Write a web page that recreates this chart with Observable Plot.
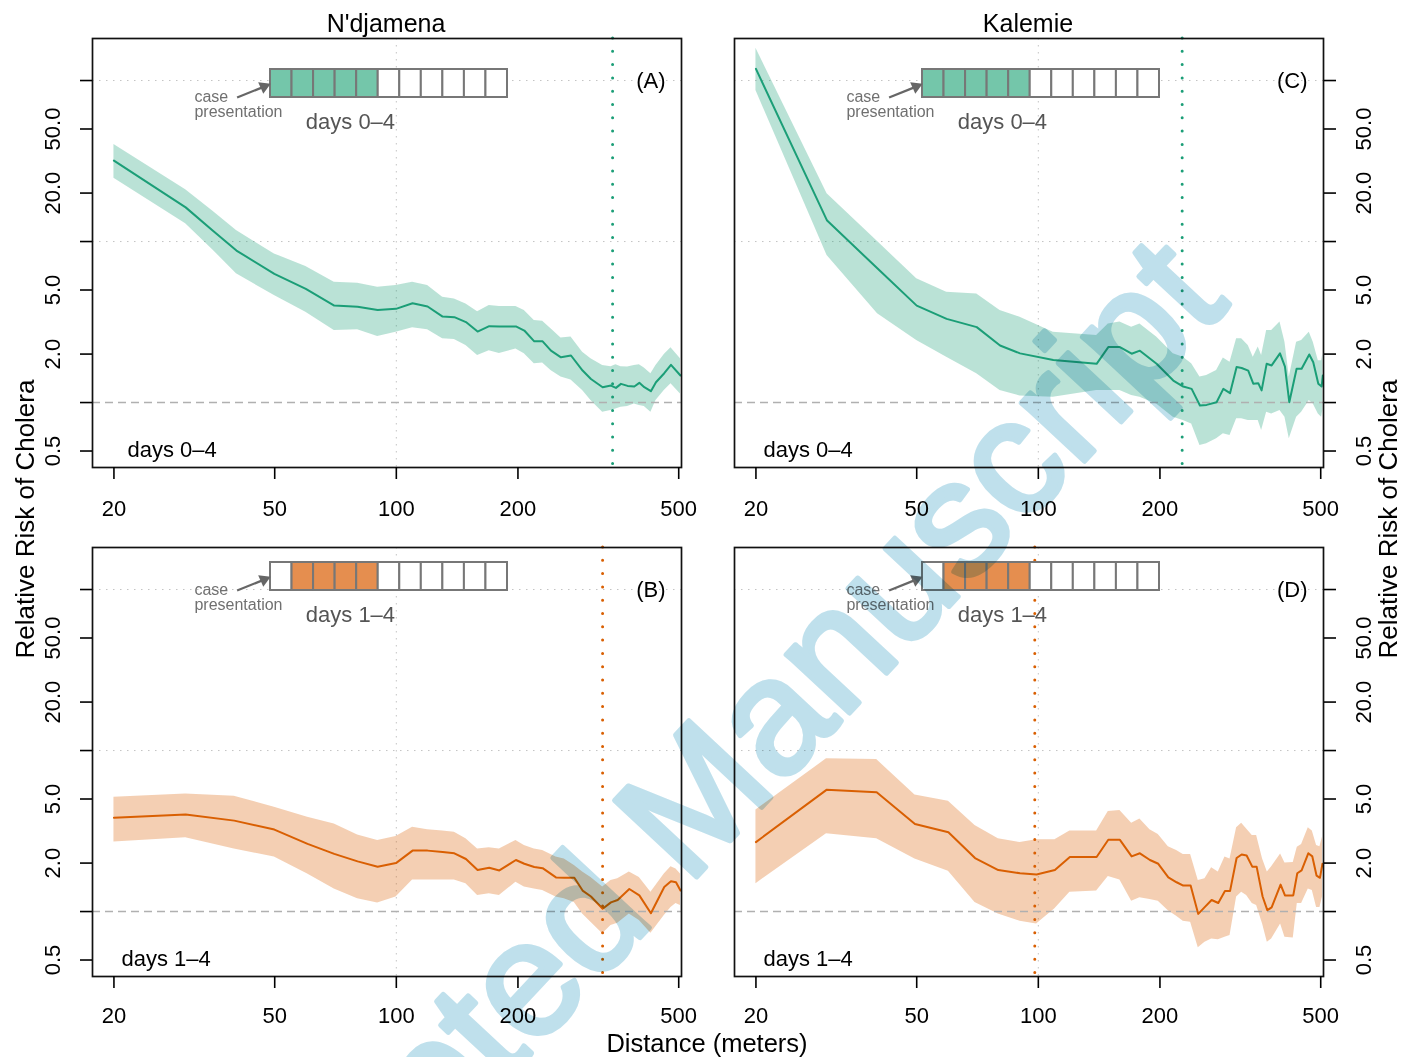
<!DOCTYPE html>
<html>
<head>
<meta charset="utf-8">
<script src="https://cdn.jsdelivr.net/npm/d3@7"></script>
<script src="https://cdn.jsdelivr.net/npm/@observablehq/plot@0.6"></script>
<style>
  html, body { margin: 0; padding: 0; background: white; }
  #wrap { position: relative; width: 1413px; height: 1057px; overflow: hidden; background: white;
          font-family: "Liberation Sans", Arial, Helvetica, sans-serif; isolation: isolate; }
  .lbl { position: absolute; white-space: nowrap; line-height: 1; color: #000; }
</style>
</head>
<body>
<div id="wrap"></div>
<script>
// ---------- data ----------
const xTicks = [20, 50, 100, 200, 500];
const yTicks = [0.5, 1, 2, 5, 10, 20, 50, 100];
const yTickLabels = ["0.5", "", "2.0", "5.0", "", "20.0", "50.0", ""];
const gridX = [100];
const gridY = [10, 100];
const refLine = [1];
const boxDays = [0, 1, 2, 3, 4, 5, 6, 7, 8, 9, 10];
const filled04 = [0, 1, 2, 3, 4];
const filled14 = [1, 2, 3, 4];
const titles = ["N'djamena", "Kalemie"];
const panelTags = ["(A)", "(B)", "(C)", "(D)"];

// N'djamena, days 0-4 (A)
const xA = [20, 30.1, 35.1, 40.2, 49.9, 59.7, 70.2, 80.2, 89.9, 99.8, 109.7, 119.5, 130.2, 139.2, 148.7, 158.9, 169.8, 179.9, 197.7, 207.4, 219.5, 230.2, 241.4, 255.6, 270.6, 289.1, 303.2, 324.1, 339.8, 349.6, 359.8, 373.6, 388.2, 399.5, 410.9, 426.7, 439.2, 460.5, 478.4, 505];
const rrA = [31.8, 16.3, 11.7, 8.79, 6.30, 5.08, 4.0, 3.94, 3.76, 3.82, 4.14, 3.95, 3.42, 3.39, 3.16, 2.76, 2.98, 2.97, 2.97, 2.80, 2.40, 2.40, 2.10, 1.91, 1.96, 1.58, 1.40, 1.245, 1.275, 1.233, 1.306, 1.269, 1.257, 1.325, 1.245, 1.176, 1.337, 1.521, 1.714, 1.472];
const hiA = [40, 21, 15.5, 11.7, 8.38, 7.0, 5.59, 5.51, 5.20, 5.33, 5.59, 5.33, 4.51, 4.40, 4.10, 3.67, 4.00, 3.95, 3.95, 3.73, 3.23, 3.20, 2.87, 2.52, 2.55, 2.05, 1.87, 1.70, 1.67, 1.72, 1.67, 1.66, 1.70, 1.72, 1.64, 1.51, 1.70, 1.99, 2.19, 1.87];
const loA = [24.7, 12.9, 8.9, 6.30, 4.62, 3.64, 2.80, 2.83, 2.57, 2.73, 2.91, 2.83, 2.49, 2.46, 2.26, 1.96, 2.10, 2.02, 2.15, 2.01, 1.74, 1.76, 1.58, 1.44, 1.38, 1.19, 1.03, 0.871, 0.892, 0.913, 0.936, 0.944, 0.981, 0.958, 0.944, 0.871, 1.03, 1.19, 1.31, 1.13];
const cutA = 343;

// N'djamena, days 1-4 (B)
const xB = [20, 30.1, 39.7, 49.9, 60.3, 70.2, 80.2, 89.9, 99.8, 109.7, 119.5, 130.2, 139.2, 148.7, 158.9, 169.8, 179.9, 197.7, 207.4, 219.5, 230.2, 248.4, 260.4, 275.8, 289.1, 303.2, 324.1, 339.8, 353.1, 377.3, 399.5, 426.7, 460.5, 478.4, 492.3, 505];
const rrB = [3.82, 4.00, 3.67, 3.23, 2.63, 2.28, 2.05, 1.90, 2.00, 2.39, 2.39, 2.34, 2.30, 2.12, 1.81, 1.87, 1.80, 2.09, 1.98, 1.89, 1.86, 1.63, 1.62, 1.62, 1.35, 1.24, 1.04, 1.14, 1.18, 1.38, 1.26, 0.976, 1.42, 1.54, 1.52, 1.35];
const hiB = [5.13, 5.38, 5.20, 4.45, 3.85, 3.50, 2.99, 2.76, 2.92, 3.34, 3.22, 3.16, 3.11, 2.83, 2.45, 2.49, 2.45, 2.76, 2.57, 2.45, 2.39, 2.18, 2.12, 1.93, 1.76, 1.63, 1.42, 1.56, 1.60, 1.76, 1.63, 1.32, 1.71, 1.90, 1.84, 1.71];
const loB = [2.70, 2.87, 2.45, 2.18, 1.71, 1.38, 1.20, 1.13, 1.23, 1.57, 1.57, 1.57, 1.57, 1.49, 1.26, 1.29, 1.26, 1.52, 1.42, 1.38, 1.35, 1.23, 1.20, 1.14, 0.967, 0.859, 0.727, 0.819, 0.846, 0.967, 0.879, 0.733, 0.944, 1.06, 1.12, 1.09];
const cutB = 324;

// Kalemie, days 0-4 (C)
const xC = [20, 30, 40, 50, 59.3, 70.4, 80.4, 90.1, 108.9, 139.4, 149.0, 159.2, 170.2, 178.4, 196.2, 215.8, 228.4, 239.6, 251.2, 261.0, 276.2, 287.0, 298.2, 309.6, 318.6, 330.8, 340.4, 350.2, 357.0, 367.4, 378.0, 396.4, 407.8, 418.0, 435.8, 448.4, 468.4, 479.2, 493.2, 502.6, 506];
const rrC = [118.2, 13.5, 6.8, 4.0, 3.31, 2.94, 2.26, 2.02, 1.84, 1.74, 2.21, 2.21, 2.01, 2.10, 1.74, 1.37, 1.257, 1.216, 0.958, 0.967, 1.005, 1.216, 1.143, 1.66, 1.64, 1.58, 1.31, 1.32, 1.19, 1.74, 1.70, 2.02, 1.67, 1.005, 1.62, 1.62, 1.99, 1.78, 1.31, 1.257, 1.47];
const hiC = [158.7, 19.8, 10.0, 5.87, 4.84, 4.73, 3.73, 3.39, 2.73, 2.61, 3.08, 3.16, 2.94, 3.08, 2.55, 2.01, 1.91, 1.74, 1.44, 1.47, 1.58, 1.89, 1.78, 2.49, 2.49, 2.26, 1.91, 2.21, 1.96, 2.80, 2.80, 3.16, 2.37, 1.44, 2.37, 2.43, 2.73, 2.37, 1.82, 1.82, 2.0];
const loC = [86.7, 8.18, 3.56, 2.43, 1.91, 1.51, 1.187, 1.10, 1.079, 1.187, 1.187, 1.187, 1.105, 1.079, 0.981, 0.811, 0.773, 0.737, 0.541, 0.554, 0.595, 0.639, 0.624, 0.792, 0.792, 0.773, 0.773, 0.773, 0.670, 0.871, 0.850, 0.892, 0.811, 0.595, 0.811, 0.871, 1.029, 0.981, 0.850, 0.811, 0.9];
const cutC = 227;

// Kalemie, days 1-4 (D)
const xD = [20, 29.9, 39.8, 49.5, 59.9, 69.7, 79.6, 90.1, 99.0, 109.9, 119.7, 139.4, 149.0, 159.2, 170.2, 178.4, 188.9, 198.1, 209.8, 219.9, 228.4, 238.2, 248.8, 258.5, 268.5, 278.9, 289.7, 298.2, 309.6, 318.6, 327.8, 338.5, 347.0, 359.0, 368.8, 378.0, 397.8, 407.8, 427.6, 437.5, 448.4, 465.8, 476.6, 488.4, 497.8, 505];
const rrD = [2.70, 5.70, 5.51, 3.50, 3.11, 2.15, 1.81, 1.73, 1.70, 1.81, 2.18, 2.18, 2.79, 2.79, 2.20, 2.30, 2.09, 1.98, 1.63, 1.52, 1.45, 1.45, 0.967, 1.07, 1.18, 1.13, 1.34, 1.34, 2.15, 2.26, 2.23, 1.90, 1.90, 1.24, 1.02, 1.06, 1.47, 1.26, 1.26, 1.73, 1.80, 2.30, 2.20, 1.67, 1.62, 1.98];
const hiD = [4.28, 8.88, 8.79, 5.30, 4.85, 3.42, 2.83, 2.68, 2.79, 2.79, 3.16, 3.16, 4.18, 4.24, 3.54, 3.76, 3.22, 3.01, 2.53, 2.39, 2.26, 2.26, 1.56, 1.60, 1.87, 1.76, 2.18, 2.12, 3.31, 3.54, 3.26, 2.97, 2.97, 2.12, 1.76, 1.90, 2.28, 2.00, 2.02, 2.51, 2.61, 3.31, 3.16, 2.57, 2.53, 2.90];
const loD = [1.49, 3.04, 2.83, 2.12, 1.78, 1.14, 0.967, 0.87, 0.838, 1.04, 1.32, 1.34, 1.65, 1.57, 1.16, 1.22, 1.19, 1.16, 1.01, 0.936, 0.871, 0.859, 0.595, 0.645, 0.676, 0.667, 0.693, 0.709, 1.23, 1.32, 1.26, 1.12, 1.09, 0.838, 0.645, 0.676, 0.838, 0.693, 0.686, 1.12, 1.12, 1.38, 1.35, 1.06, 1.06, 1.23];
const cutD = 98;

// ---------- styling ----------
const GREEN = "#1b9e77", ORANGE = "#d95f02";
const GREEN_BOX = "#74c6aa", ORANGE_BOX = "#e58e4f";
const FONT = "'Liberation Sans', Arial, Helvetica, sans-serif";
const wrap = document.getElementById("wrap");

function place(el, left, top) {
  el.style.position = "absolute";
  el.style.left = left + "px";
  el.style.top = top + "px";
  wrap.appendChild(el);
}

function panel(o) {
  const data = o.x.map((d, i) => ({x: d, rr: o.rr[i], lo: o.lo[i], hi: o.hi[i]}));
  const right = o.side === "right";
  const yLabels = yTicks.map((v, i) => ({v, t: yTickLabels[i]})).filter(d => d.t);
  const svg = Plot.plot({
    width: o.width, height: o.height,
    marginLeft: o.ml, marginRight: o.mr, marginTop: o.mt, marginBottom: o.mb,
    x: {type: "log", domain: [17.7, 508]},
    y: {type: "log", domain: [0.395, 182.4]},
    style: {fontFamily: FONT, fontSize: "22px", color: "black", background: "transparent", maxWidth: "none", overflow: "visible"},
    marks: [
      Plot.ruleY(gridY, {stroke: "#c4c4c4", strokeDasharray: "1.5,5.5"}),
      Plot.ruleX(gridX, {stroke: "#c4c4c4", strokeDasharray: "1.5,5.5"}),
      Plot.areaY(data, {x: "x", y1: "lo", y2: "hi", fill: o.color, fillOpacity: 0.3, curve: "linear"}),
      Plot.ruleY(refLine, {stroke: "#b0b0b0", strokeWidth: 1.5, strokeDasharray: "8,5"}),
      Plot.lineY(data, {x: "x", y: "rr", stroke: o.color, strokeWidth: 2}),
      Plot.ruleX([o.cut], {stroke: o.color, strokeWidth: 3, strokeDasharray: "0,13.3", strokeLinecap: "round"}),
      Plot.frame({stroke: "#111", strokeWidth: 1.7}),
      Plot.axisX({ticks: xTicks, tickFormat: d => String(d), tickSize: 12, tickPadding: o.xPad, fontSize: 22, label: null, strokeWidth: 1.6}),
      Plot.axisY({anchor: right ? "right" : "left", ticks: yTicks, tickSize: 12, fill: "none", label: null, strokeWidth: 1.6}),
      Plot.text(yLabels, {y: "v", text: "t", frameAnchor: right ? "right" : "left", dx: right ? 40 : -40,
        rotate: -90, textAnchor: "middle", lineAnchor: "middle", fontSize: 22}),
      Plot.text([{t: o.tag, y: 100}], {text: "t", y: "y", frameAnchor: "right", dx: -16, textAnchor: "end", fontSize: 22}),
      Plot.text([o.days], {frameAnchor: "bottom-left", dx: o.daysDx, dy: -18, textAnchor: "start", lineAnchor: "middle", fontSize: 22})
    ]
  });
  place(svg, o.left, o.top);
}

function inset(o) {
  const boxes = boxDays.map(d => ({day: d, on: o.filled.includes(d)}));
  const svg = Plot.plot({
    width: 340, height: 80, marginLeft: 90, marginRight: 13, marginTop: 9, marginBottom: 43,
    x: {domain: [0, 11], axis: null},
    y: {domain: [0, 1], axis: null},
    style: {fontFamily: FONT, background: "transparent", maxWidth: "none", overflow: "visible"},
    marks: [
      Plot.rect(boxes, {x1: "day", x2: d => d.day + 1, y1: 0, y2: 1, fill: d => d.on ? o.color : "white", stroke: "#777", strokeWidth: 2}),
      Plot.link([{x1: -1.55, y1: 0.0, x2: -0.35, y2: 0.37}], {x1: "x1", y1: "y1", x2: "x2", y2: "y2", stroke: "#666", strokeWidth: 2.2}),
      Plot.dot([{x: -0.3, y: 0.39}], {x: "x", y: "y", symbol: "triangle2", r: 6, fill: "#666", rotate: 66}),
      Plot.text([{t: "case", x: -3.53, y: 0.04}, {t: "presentation", x: -3.53, y: -0.53}],
        {text: "t", x: "x", y: "y", textAnchor: "start", lineAnchor: "middle", fontSize: 16, fill: "#707070"}),
      Plot.text([{t: o.label, x: 3.71, y: -0.86}], {text: "t", x: "x", y: "y", textAnchor: "middle", lineAnchor: "middle", fontSize: 22, fill: "#555"})
    ]
  });
  place(svg, o.left, o.top);
}

// top row
panel({x: xA, rr: rrA, lo: loA, hi: hiA, cut: cutA, color: GREEN, side: "left", tag: panelTags[0], days: "days 0–4", daysDx: 35, xPad: 21,
       left: 0, top: 0, width: 706, height: 530, ml: 92, mr: 25, mt: 38, mb: 63});
panel({x: xC, rr: rrC, lo: loC, hi: hiC, cut: cutC, color: GREEN, side: "right", tag: panelTags[2], days: "days 0–4", daysDx: 29, xPad: 21,
       left: 706, top: 0, width: 707, height: 530, ml: 28, mr: 90, mt: 38, mb: 63});
// bottom row
panel({x: xB, rr: rrB, lo: loB, hi: hiB, cut: cutB, color: ORANGE, side: "left", tag: panelTags[1], days: "days 1–4", daysDx: 29, xPad: 19,
       left: 0, top: 509, width: 706, height: 548, ml: 92, mr: 25, mt: 38, mb: 81});
panel({x: xD, rr: rrD, lo: loD, hi: hiD, cut: cutD, color: ORANGE, side: "right", tag: panelTags[3], days: "days 1–4", daysDx: 29, xPad: 19,
       left: 706, top: 509, width: 707, height: 548, ml: 28, mr: 90, mt: 38, mb: 81});

inset({left: 180, top: 60, filled: filled04, color: GREEN_BOX, label: "days 0–4"});
inset({left: 832, top: 60, filled: filled04, color: GREEN_BOX, label: "days 0–4"});
inset({left: 180, top: 553, filled: filled14, color: ORANGE_BOX, label: "days 1–4"});
inset({left: 832, top: 553, filled: filled14, color: ORANGE_BOX, label: "days 1–4"});

// titles and axis titles
function label(text, cx, cy, size, rot) {
  const d = document.createElement("div");
  d.className = "lbl";
  d.textContent = text;
  d.style.fontSize = size + "px";
  d.style.left = cx + "px";
  d.style.top = cy + "px";
  d.style.transform = "translate(-50%,-50%)" + (rot ? " rotate(" + rot + "deg)" : "");
  wrap.appendChild(d);
}
label(titles[0], 386, 23, 25);
label(titles[1], 1028, 23, 25);
label("Distance (meters)", 707, 1044, 25.5);
label("Relative Risk of Cholera", 25, 519, 26, -90);
label("Relative Risk of Cholera", 1388, 519, 26, -90);

// watermark (multiplied over the chart, as in the scanned page)
const ns = "http://www.w3.org/2000/svg";
const wm = document.createElementNS(ns, "svg");
wm.setAttribute("width", 1413); wm.setAttribute("height", 1057);
wm.style.position = "absolute"; wm.style.left = "0px"; wm.style.top = "0px";
wm.style.pointerEvents = "none"; wm.style.mixBlendMode = "multiply";
const wt = document.createElementNS(ns, "text");
wt.setAttribute("x", 193); wt.setAttribute("y", 1417);
wt.setAttribute("transform", "rotate(-47 193 1417)");
wt.setAttribute("font-family", "Liberation Sans, Arial, sans-serif");
wt.setAttribute("font-size", 163);
wt.setAttribute("fill", "#bfe0ec");
wt.setAttribute("stroke", "#bfe0ec");
wt.setAttribute("stroke-width", 5);
wt.setAttribute("stroke-linejoin", "round");
wt.textContent = "Accepted Manuscript";
wm.appendChild(wt);
wrap.appendChild(wm);
</script>
</body>
</html>
